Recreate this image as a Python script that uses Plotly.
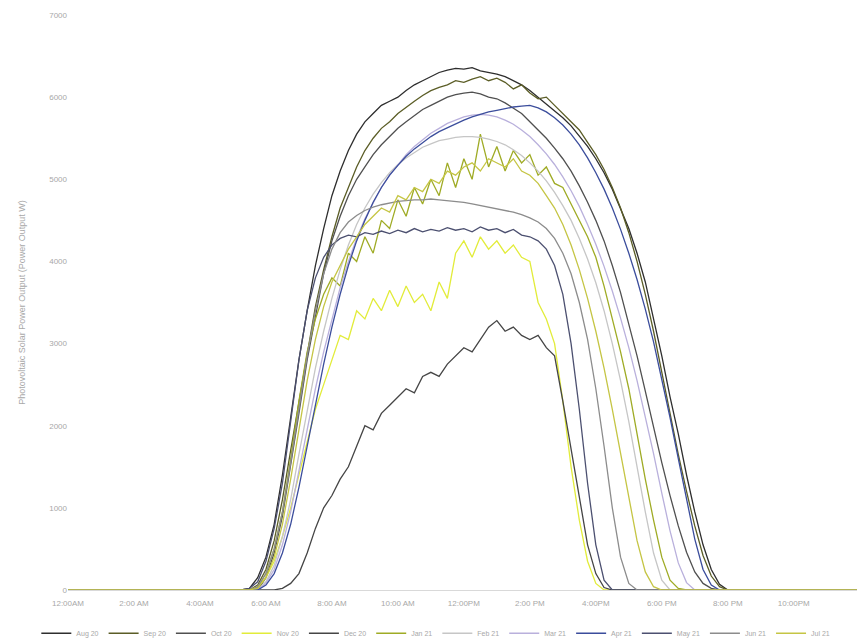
import pandas as pd
import plotly.graph_objects as go

# 15-minute samples from 05:00 to 20:00 (61 values per day, watts)
series_names = ["Aug 20", "Sep 20", "Oct 20", "Nov 20", "Dec 20", "Jan 21",
                "Feb 21", "Mar 21", "Apr 21", "May 21", "Jun 21", "Jul 21"]

s_aug = [0, 0, 20, 150,  400, 800, 1400, 2100,  2800, 3400, 3950, 4400,
         4800, 5100, 5350, 5550,  5700, 5800, 5900, 5950,  6000, 6080, 6150, 6200,
         6250, 6300, 6330, 6350,  6340, 6360, 6320, 6300,  6280, 6250, 6200, 6150,
         6080, 6000, 5920, 5830,  5750, 5650, 5530, 5400,  5250, 5080, 4880, 4650,
         4400, 4100, 3750, 3300,  2850, 2350, 1900, 1400,  950, 550, 250, 70,  0]
s_sep = [0, 0, 0, 60,  250, 600, 1100, 1700,  2300, 2900, 3450, 3900,
         4300, 4650, 4900, 5150,  5350, 5500, 5620, 5700,  5800, 5880, 5950, 6020,
         6080, 6120, 6150, 6200,  6180, 6220, 6250, 6200,  6230, 6180, 6100, 6150,
         6050, 5980, 6000, 5900,  5800, 5700, 5600, 5450,  5300, 5120, 4900, 4650,
         4350, 4000, 3600, 3150,  2650, 2150, 1650, 1200,  780, 420, 170, 40,  0]
s_oct = [0, 0, 0, 0,  150, 450, 900, 1500,  2150, 2800, 3350, 3850,
         4250, 4550, 4800, 5000,  5150, 5300, 5420, 5520,  5620, 5700, 5780, 5850,
         5900, 5950, 6000, 6030,  6050, 6060, 6040, 6000,  5980, 5930, 5870, 5800,
         5700, 5600, 5500, 5380,  5250, 5100, 4920, 4720,  4500, 4250, 3950, 3620,
         3250, 2850, 2420, 1980,  1550, 1150, 780, 460,  220, 80, 20, 0,  0]
s_nov = [0, 0, 0, 40,  150, 350, 650, 1000,  1400, 1800, 2200, 2500,
         2800, 3100, 3050, 3400,  3300, 3550, 3400, 3650,  3450, 3700, 3500, 3600,
         3400, 3750, 3550, 4100,  4250, 4050, 4300, 4150,  4250, 4100, 4200, 4050,
         4000, 3500, 3300, 3000,  2300, 1500, 850, 350,  80, 0, 0, 0,
         0, 0, 0, 0,  0, 0, 0, 0,  0, 0, 0, 0,  0]
s_dec = [0, 0, 0, 0,  0, 0, 20, 80,  200, 450, 750, 1000,
         1150, 1350, 1500, 1750,  2000, 1950, 2150, 2250,  2350, 2450, 2400, 2600,
         2650, 2600, 2750, 2850,  2950, 2900, 3050, 3200,  3280, 3150, 3200, 3100,
         3050, 3100, 2950, 2850,  2300, 1700, 1100, 550,  200, 30, 0, 0,
         0, 0, 0, 0,  0, 0, 0, 0,  0, 0, 0, 0,  0]
s_jan = [0, 0, 0, 30,  200, 500, 950, 1600,  2300, 2900, 3300, 3600,
         3800, 3700, 4100, 4000,  4300, 4100, 4500, 4400,  4750, 4550, 4900, 4700,
         5000, 4800, 5200, 4900,  5250, 5000, 5550, 5150,  5400, 5100, 5350, 5200,
         5300, 5050, 5150, 4950,  4900, 4700, 4500, 4300,  4050, 3700, 3300, 2900,
         2450, 1900, 1350, 850,  400, 120, 20, 0,  0, 0, 0, 0,  0]
s_feb = [0, 0, 0, 0,  100, 300, 650, 1100,  1650, 2200, 2700, 3150,
         3550, 3900, 4200, 4450,  4650, 4820, 4960, 5080,  5180, 5260, 5330, 5390,
         5430, 5470, 5490, 5510,  5520, 5520, 5510, 5490,  5460, 5420, 5360, 5290,
         5200, 5100, 4980, 4840,  4680, 4500, 4280, 4030,  3740, 3400, 3000, 2550,
         2050, 1500, 950, 450,  120, 0, 0, 0,  0, 0, 0, 0,  0]
s_mar = [0, 0, 0, 0,  80, 250, 550, 950,  1450, 1950, 2450, 2900,
         3300, 3680, 4000, 4280,  4520, 4720, 4900, 5050,  5180, 5300, 5400, 5480,
         5560, 5620, 5680, 5720,  5760, 5780, 5790, 5780,  5760, 5720, 5670, 5600,
         5520, 5420, 5310, 5180,  5030, 4860, 4670, 4450,  4210, 3940, 3640, 3310,
         2950, 2550, 2120, 1660,  1180, 720, 330, 90,  0, 0, 0, 0,  0]
s_apr = [0, 0, 0, 0,  60, 200, 450, 800,  1250, 1750, 2250, 2750,
         3200, 3600, 3950, 4250,  4500, 4720, 4900, 5050,  5170, 5280, 5370, 5450,
         5520, 5580, 5630, 5680,  5720, 5760, 5790, 5820,  5840, 5860, 5880, 5890,
         5900, 5870, 5820, 5750,  5660, 5550, 5420, 5260,  5080, 4880, 4650, 4390,
         4100, 3780, 3420, 3020,  2580, 2100, 1600, 1100,  620, 250, 60, 0,  0]
s_may = [0, 0, 20, 100,  350, 750, 1300, 2050,  2800, 3400, 3800, 4050,
         4200, 4280, 4320, 4300,  4350, 4330, 4370, 4340,  4380, 4350, 4400, 4360,
         4390, 4370, 4410, 4380,  4400, 4360, 4420, 4380,  4400, 4350, 4390, 4320,
         4300, 4250, 4150, 3950,  3600, 3000, 2200, 1300,  550, 120, 0, 0,
         0, 0, 0, 0,  0, 0, 0, 0,  0, 0, 0, 0,  0]
s_jun = [0, 0, 0, 40,  200, 500, 950, 1550,  2200, 2850, 3400, 3850,
         4150, 4350, 4480, 4560,  4620, 4660, 4690, 4710,  4730, 4740, 4750, 4750,
         4760, 4750, 4740, 4730,  4720, 4700, 4680, 4660,  4640, 4620, 4600, 4570,
         4530, 4480, 4400, 4280,  4100, 3850, 3500, 3050,  2450, 1750, 1000, 400,
         80, 0, 0, 0,  0, 0, 0, 0,  0, 0, 0, 0,  0]
s_jul = [0, 0, 0, 20,  150, 400, 800, 1350,  1950, 2550, 3050, 3450,
         3750, 3950, 4150, 4300,  4450, 4550, 4650, 4600,  4800, 4750, 4900, 4850,
         5000, 4950, 5100, 5050,  5150, 5200, 5100, 5250,  5200, 5150, 5250, 5100,
         5050, 4950, 4800, 4650,  4450, 4200, 3900, 3550,  3150, 2700, 2200, 1650,
         1100, 600, 220, 40,  0, 0, 0, 0,  0, 0, 0, 0,  0]

series_values = [s_aug, s_sep, s_oct, s_nov, s_dec, s_jan,
                 s_feb, s_mar, s_apr, s_may, s_jun, s_jul]
series_colors = ["#2e2e2e", "#5b5d26", "#505050", "#e2ec3a", "#454545", "#9fab25",
                 "#c6c6c6", "#b9b0dc", "#3b4d9c", "#4c5070", "#8c8c8c", "#c5c544"]

tick_labels = ["12:00AM", "2:00 AM", "4:00AM", "6:00 AM", "8:00 AM", "10:00 AM",
               "12:00PM", "2:00 PM", "4:00PM", "6:00 PM", "8:00 PM", "10:00PM", "12:00AM"]

day = "2019-08-20"
grid = pd.date_range(f"{day} 05:00", f"{day} 20:00", freq="15min")
x_full = [pd.Timestamp(f"{day} 00:00")] + list(grid) + [pd.Timestamp("2019-08-21 00:00")]
tick_vals = list(pd.date_range(f"{day} 00:00", "2019-08-21 00:00", freq="2h"))

fig = go.Figure()
for name, vals, col in zip(series_names, series_values, series_colors):
    fig.add_trace(go.Scatter(x=x_full, y=[0] + vals + [0], mode="lines", name=name,
                             line=dict(color=col, width=1.3)))

fig.update_layout(
    width=857, height=631,
    margin=dict(l=60, r=5, t=7, b=49, autoexpand=False),
    paper_bgcolor="white", plot_bgcolor="white",
    font=dict(family="Liberation Sans, Arial", size=8, color="#a8a8a8"),
    showlegend=True,
    legend=dict(orientation="h", x=-0.04, y=-0.05, xanchor="left", yanchor="top",
                font=dict(size=7, color="#a8a8a8"), itemwidth=30, tracegroupgap=0),
    xaxis=dict(type="date", range=[f"{day} 00:00", "2019-08-21 00:00:30"],
               tickvals=tick_vals, ticktext=tick_labels, showgrid=False,
               showline=True, linecolor="#d9d9d9", linewidth=1, zeroline=False,
               ticks="", ticklabelstandoff=5, tickfont=dict(size=8, color="#a8a8a8")),
    yaxis=dict(range=[0, 7000], dtick=1000, showgrid=False, showline=False,
               zeroline=False, ticks="", tickfont=dict(size=8, color="#a8a8a8"),
               title=dict(text="Photovoltaic Solar Power Output (Power Output W)",
                          font=dict(size=9, color="#a8a8a8"), standoff=22)),
)

fig.write_html("out.html")
